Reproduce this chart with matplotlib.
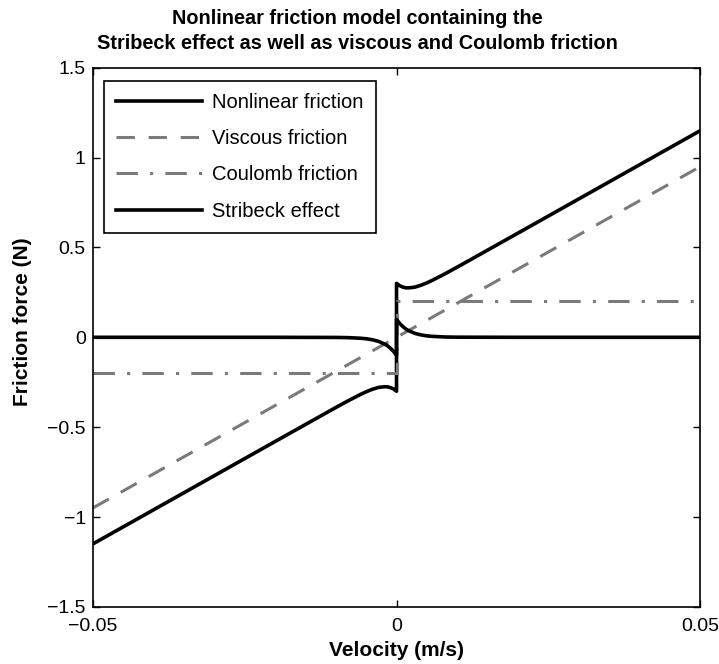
import numpy as np
import matplotlib.pyplot as plt

plt.rcParams['font.family'] = ['Liberation Sans', 'DejaVu Sans']

# velocity samples (m/s) for the positive branch, mirrored for v < 0
velocity = np.array([0, 0.0005, 0.001, 0.0015, 0.002, 0.003, 0.004, 0.005,
                     0.006, 0.008, 0.01, 0.02, 0.03, 0.04, 0.05])
# friction components (N) at those velocities
viscous = np.array([0, 0.0095, 0.019, 0.0285, 0.038, 0.057, 0.076, 0.095,
                    0.114, 0.152, 0.19, 0.38, 0.57, 0.76, 0.95])
coulomb = np.array([0.2] * 15)
stribeck = np.array([0.1, 0.078, 0.061, 0.047, 0.037, 0.022, 0.0135, 0.008,
                     0.005, 0.0018, 0.0007, 0, 0, 0, 0])

labels = ["Nonlinear friction", "Viscous friction", "Coulomb friction", "Stribeck effect"]


def both_sides(y):
    # odd symmetry, both branches keep v = 0 so the jump is drawn
    return np.concatenate([-y[::-1], y])


v = np.concatenate([-velocity[::-1], velocity])
F_visc = both_sides(viscous)
F_coul = both_sides(coulomb)
F_strib = both_sides(stribeck)
F_total = F_visc + F_coul + F_strib

fig = plt.figure(figsize=(7.19, 6.64), dpi=100)
ax = fig.add_axes([0.129, 0.086, 0.845, 0.812])

gray = '#7a7a7a'
ax.plot(v, F_total, color='black', lw=2.6, label=labels[0])
ax.plot(v, F_visc, color=gray, lw=2.2, dashes=(6, 4.5), label=labels[1])
ax.plot(v, F_coul, color=gray, lw=2.2, dashes=(7, 4, 1, 4), label=labels[2])
ax.plot(v, F_strib, color='black', lw=2.6, label=labels[3])

ax.set_xlim(-0.05, 0.05)
ax.set_ylim(-1.5, 1.5)
ax.set_xticks([-0.05, 0, 0.05])
ax.set_xticklabels(['\u22120.05', '0', '0.05'])
ax.set_yticks(np.arange(-1.5, 1.51, 0.5))
ax.set_yticklabels(['\u22121.5', '\u22121', '\u22120.5', '0', '0.5', '1', '1.5'])
ax.tick_params(direction='in', length=5, width=1, top=True, right=True,
               labelsize=14)
ax.tick_params(axis='x', pad=8)
ax.tick_params(axis='y', pad=5)
for s in ax.spines.values():
    s.set_linewidth(1.2)

ax.set_xlabel("Velocity (m/s)", fontsize=15, fontweight='bold')
ax.set_ylabel("Friction force (N)", fontsize=15, fontweight='bold')
ax.xaxis.set_label_coords(0.5, -0.064)
ax.yaxis.set_label_coords(-0.1, 0.529)
fig.text(0.497, 0.953, "Nonlinear friction model containing the\n"
         "Stribeck effect as well as viscous and Coulomb friction",
         ha='center', va='center', fontsize=14.3, fontweight='bold', linespacing=1.4)

leg = ax.legend(loc='upper left', bbox_to_anchor=(0.018, 0.976), borderaxespad=0,
                fontsize=14.5, handlelength=4.3, labelspacing=0.86, handletextpad=0.5,
                borderpad=0.6, fancybox=False, framealpha=1)
leg.get_frame().set_edgecolor('black')
leg.get_frame().set_linewidth(1.2)

plt.savefig("out.png", dpi=100)
